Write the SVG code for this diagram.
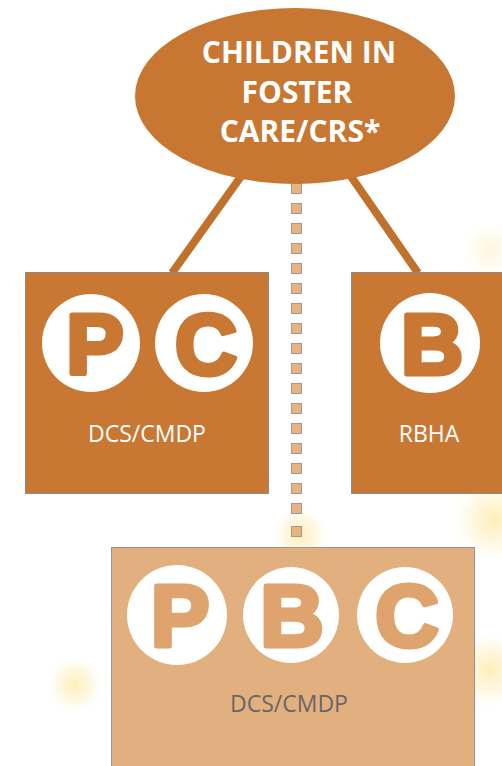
<svg xmlns="http://www.w3.org/2000/svg" width="502" height="766" viewBox="0 0 502 766">
<defs>
<radialGradient id="glow">
<stop offset="0" stop-color="#fde9a0" stop-opacity="0.75"/>
<stop offset="0.6" stop-color="#fdeeb8" stop-opacity="0.35"/>
<stop offset="1" stop-color="#ffffff" stop-opacity="0"/>
</radialGradient>
<style>
.box{fill:#c97834;stroke:#8e8a86;stroke-width:1}
.boxl{fill:#e2b07f;stroke:#9a948e;stroke-width:1}
.circ{fill:#ffffff}
.let{font-family:"Liberation Sans",Arial,sans-serif;font-weight:bold;font-size:86px;text-anchor:middle;fill:#c97834;stroke:#c97834;stroke-width:5;stroke-linejoin:round}
.letl{font-family:"Liberation Sans",Arial,sans-serif;font-weight:bold;font-size:88px;text-anchor:middle;fill:#dfa46d;stroke:#dfa46d;stroke-width:5;stroke-linejoin:round}
.lab{font-family:"Open Sans",sans-serif;font-size:23px;text-anchor:middle;fill:#ffffff}
.labl{font-family:"Open Sans",sans-serif;font-size:23px;text-anchor:middle;fill:#6a6666}
.title{font-family:"Open Sans",sans-serif;font-weight:bold;font-size:30px;text-anchor:middle;fill:#ffffff}
.conn{stroke:#c0712c;stroke-width:8;fill:none}
.dot{fill:#eab27e;stroke:#a09a94;stroke-width:1}
</style>
</defs>
<rect width="502" height="766" fill="#ffffff"/>
<g id="background">
<circle cx="495" cy="520" r="45" fill="url(#glow)"/>
<circle cx="300" cy="535" r="30" fill="url(#glow)"/>
<circle cx="75" cy="685" r="30" fill="url(#glow)"/>
<circle cx="490" cy="670" r="40" fill="url(#glow)"/>
<circle cx="490" cy="250" r="30" fill="url(#glow)" opacity="0.5"/>
</g>
<g id="connectors">
<line class="conn" x1="242" y1="175" x2="172" y2="273"/>
<line class="conn" x1="350" y1="175" x2="418" y2="273"/>
<g id="dotted">
<rect class="dot" x="291.5" y="183.5" width="10" height="10"/>
<rect class="dot" x="291.5" y="203.5" width="10" height="10"/>
<rect class="dot" x="291.5" y="223.5" width="10" height="10"/>
<rect class="dot" x="291.5" y="243.5" width="10" height="10"/>
<rect class="dot" x="291.5" y="263.5" width="10" height="10"/>
<rect class="dot" x="291.5" y="283.5" width="10" height="10"/>
<rect class="dot" x="291.5" y="303.5" width="10" height="10"/>
<rect class="dot" x="291.5" y="323.5" width="10" height="10"/>
<rect class="dot" x="291.5" y="343.5" width="10" height="10"/>
<rect class="dot" x="291.5" y="363.5" width="10" height="10"/>
<rect class="dot" x="291.5" y="383.5" width="10" height="10"/>
<rect class="dot" x="291.5" y="403.5" width="10" height="10"/>
<rect class="dot" x="291.5" y="423.5" width="10" height="10"/>
<rect class="dot" x="291.5" y="443.5" width="10" height="10"/>
<rect class="dot" x="291.5" y="463.5" width="10" height="10"/>
<rect class="dot" x="291.5" y="483.5" width="10" height="10"/>
<rect class="dot" x="291.5" y="503.5" width="10" height="10"/>
<rect class="dot" x="291.5" y="526.5" width="10" height="10"/>
</g>
</g>
<g id="top">
<ellipse cx="295" cy="96" rx="160" ry="88" fill="#c77731"/>
<text class="title" x="299" y="63">CHILDREN IN</text>
<text class="title" x="297" y="103">FOSTER</text>
<text class="title" x="300" y="142">CARE/CRS*</text>
</g>
<g id="left">
<rect class="box" x="25.5" y="272.5" width="243" height="221"/>
<circle class="circ" cx="91" cy="343" r="49"/>
<text class="let" x="95" y="374">P</text>
<circle class="circ" cx="204" cy="343" r="49"/>
<text class="let" x="206" y="374">C</text>
<text class="lab" x="147" y="442">DCS/CMDP</text>
</g>
<g id="right">
<rect class="box" x="351.5" y="272.5" width="160" height="221"/>
<circle class="circ" cx="430" cy="343" r="50"/>
<text class="let" x="432" y="374">B</text>
<text class="lab" x="429" y="442">RBHA</text>
</g>
<g id="bottom">
<rect class="boxl" x="111.5" y="547.5" width="363" height="230"/>
<circle class="circ" cx="177" cy="615" r="50"/>
<text class="letl" x="180" y="646">P</text>
<circle class="circ" cx="291" cy="615" r="48"/>
<text class="letl" x="292" y="646">B</text>
<circle class="circ" cx="405" cy="615" r="48"/>
<text class="letl" x="407" y="646">C</text>
<text class="labl" x="289" y="712">DCS/CMDP</text>
</g>
</svg>
